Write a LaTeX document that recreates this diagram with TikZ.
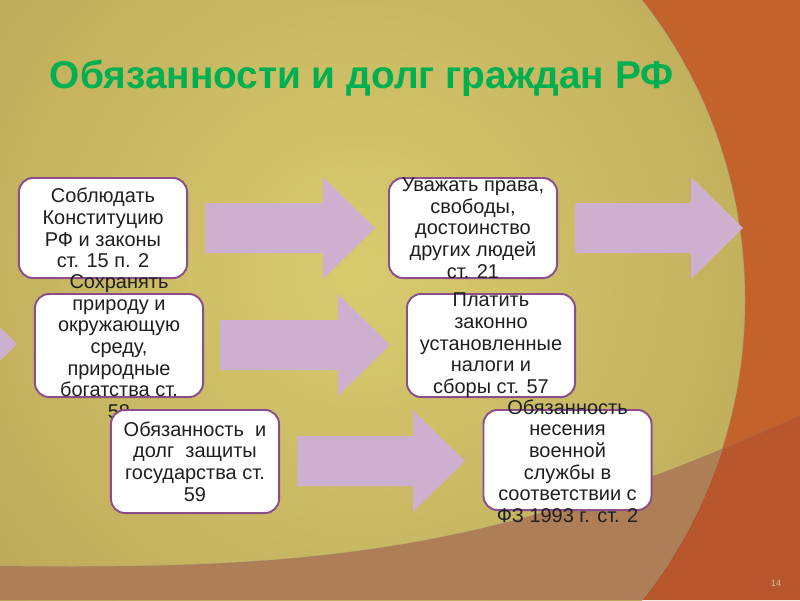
\documentclass[tikz,border=0pt]{standalone}
\usepackage{fontspec}
\setmainfont{Liberation Sans}
\definecolor{slideolive}{RGB}{182,160,84}
\definecolor{slidelight}{RGB}{216,203,110}
\definecolor{slideorange}{RGB}{195,98,42}
\definecolor{slidedeep}{RGB}{184,86,46}
\definecolor{slidetan}{RGB}{174,126,86}
\definecolor{arrowlilac}{RGB}{205,176,207}
\definecolor{boxframe}{RGB}{140,78,138}
\definecolor{titlegreen}{RGB}{0,176,80}
\definecolor{pagenum}{RGB}{218,188,150}

\begin{document}
\begin{tikzpicture}[x=0.025cm,y=-0.025cm,
  box/.style={draw=boxframe,line width=1.4pt,fill=white,rounded corners=0.35cm,
    minimum width=4.2cm,minimum height=2.5cm,inner sep=0pt},
  tallbox/.style={box,minimum height=2.575cm},
  boxtext/.style={align=center,inner sep=0pt,text=black!88,
    font=\fontsize{14.2}{15.4}\selectfont},
  blockarrow/.style={fill=arrowlilac}]
\useasboundingbox (0,0) rectangle (800,600);
\clip (0,0) rectangle (800,600);
\fill[slideorange] (0,0) rectangle (800,600);
\fill[slidedeep] (0,566) .. controls (320,570) and (500,552) .. (800,415) -- (800,600) -- (0,600) -- cycle;
\begin{scope}
\clip (300,300) ellipse [x radius=445, y radius=469];
\fill[slideolive] (0,0) rectangle (800,600);
\shade[inner color=slidelight, outer color=slideolive] (360,270) circle [radius=620];
\fill[slidetan] (0,566) .. controls (320,570) and (500,552) .. (800,415) -- (800,600) -- (0,600) -- cycle;
\end{scope}
\draw[black!45,opacity=.35,line width=.6pt] (300,300) ellipse [x radius=445, y radius=469];
\draw[black!45,opacity=.25,line width=.6pt] (0,566) .. controls (320,570) and (500,552) .. (800,415);

\node[anchor=base west,text=titlegreen,font=\fontsize{27.6}{32}\selectfont\bfseries] (title) at (45,88) {Обязанности и долг граждан РФ};

\foreach \xa/\xb/\ym in {205/375/228, 575/743/228, -153/17/344, 220/390/345, 297/465/461}
  \fill[blockarrow] (\xa,\ym-25) -- (\xb-52,\ym-25) -- (\xb-52,\ym-51) -- (\xb,\ym)
    -- (\xb-52,\ym+51) -- (\xb-52,\ym+25) -- (\xa,\ym+25) -- cycle;

\node[box] (b1) at (103,228) {};
\node[boxtext] (t1) at (b1) {Соблюдать\\Конституцию\\РФ и законы\\ст. 15 п. 2};
\node[box] (b2) at (473,228) {};
\node[boxtext] (t2) at (b2) {Уважать права,\\свободы,\\достоинство\\других людей\\ст. 21};
\node[tallbox] (b3) at (119,345.5) {};
\node[boxtext] (t3) at (119,346.5) {Сохранять\\природу и\\окружающую\\среду,\\природные\\богатства ст.\\58};
\node[tallbox] (b4) at (491,345.5) {};
\node[boxtext] (t4) at (b4) {Платить\\законно\\установленные\\налоги и\\сборы ст. 57};
\node[tallbox] (b5) at (195,461.5) {};
\node[boxtext] (t5) at (b5) {Обязанность\ \ и\\долг\ \ защиты\\государства ст.\\59};
\node[box] (b6) at (567.5,460) {};
\node[boxtext] (t6) at (567.5,461) {Обязанность\\несения\\военной\\службы в\\соответствии с\\ФЗ 1993 г. ст. 2};

\node[text=pagenum,font=\fontsize{6.5}{7}\selectfont] (num) at (776,583) {14};
\end{tikzpicture}
\end{document}
